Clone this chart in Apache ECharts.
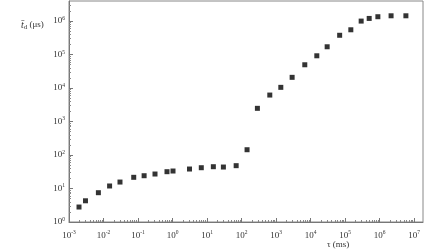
<!DOCTYPE html>
<html>
<head>
<meta charset="utf-8">
<script src="https://cdn.jsdelivr.net/npm/echarts@6/dist/echarts.min.js"></script>
<style>
  html, body { margin: 0; padding: 0; background: #fff; }
  #main { width: 448px; height: 252px; }
</style>
</head>
<body>
<div id="main"></div>
<script>
// tau (ms) vs mean delay time t_d (us)
var tau = [0.00195, 0.003, 0.0071, 0.015, 0.030, 0.075, 0.15, 0.31, 0.69, 1.03,
  3.1, 6.8, 15.2, 29.7, 69.6, 144, 287, 656, 1368, 2911,
  6770, 15100, 30100, 69300, 146000, 291000, 497000, 887000, 2140000, 5750000];
var td = [2.8, 4.3, 7.5, 11.9, 15.6, 21.6, 24.1, 27.1, 31.8, 33.3,
  38.2, 41.8, 44.8, 43.8, 48.1, 144, 2480, 6180, 10500, 20900,
  49600, 92000, 171000, 377000, 550000, 1000000, 1200000, 1350000, 1440000, 1440000];

var xDecades = [-3, -2, -1, 0, 1, 2, 3, 4, 5, 6, 7];
var yDecades = [0, 1, 2, 3, 4, 5, 6];
var xMin = 1e-3, xMax = 1.8e7;
var yMin = 1, yMax = 3.98e6;

function minorValues(decades, max) {
  var out = [];
  decades.forEach(function (d) {
    for (var m = 2; m <= 9; m++) {
      var v = m * Math.pow(10, d);
      if (v < max) out.push(v);
    }
  });
  return out;
}

function powLabel(v) {
  var e = Math.log10(v);
  var r = Math.round(e);
  if (Math.abs(e - r) > 1e-6) return '';
  return '{b|10}{s|' + r + '}';
}

var labelRich = {
  b: { fontFamily: 'Liberation Serif', fontSize: 9, color: '#333' },
  s: { fontFamily: 'Liberation Serif', fontSize: 5.5, color: '#333', verticalAlign: 'bottom', padding: [0, 0, 5, 0] }
};

var chartDom = document.getElementById('main');
var myChart = echarts.init(chartDom);
var option = {
  animation: false,
  grid: {
    left: 69, right: 25, top: 1, bottom: 30,
    show: true,
    borderColor: '#888',
    borderWidth: 1
  },
  xAxis: [
    {
      type: 'log',
      min: xMin, max: xMax,
      interval: 1,
      position: 'bottom',
      axisLine: { lineStyle: { color: '#777', width: 1 } },
      axisTick: { show: true, inside: true, length: 4, lineStyle: { color: '#777' } },
      axisLabel: {
        margin: 8,
        showMaxLabel: false,
        formatter: powLabel,
        rich: labelRich
      },
      splitLine: { show: false }
    },
    {
      // minor ticks only
      type: 'log',
      min: xMin, max: xMax,
      position: 'bottom',
      axisLine: { show: false },
      axisTick: { show: true, inside: true, length: 2, customValues: minorValues(xDecades, xMax), lineStyle: { color: '#888' } },
      axisLabel: { show: false },
      splitLine: { show: false }
    }
  ],
  yAxis: [
    {
      type: 'log',
      min: yMin, max: yMax,
      interval: 1,
      position: 'left',
      axisLine: { show: true, lineStyle: { color: '#777', width: 1 } },
      axisTick: { show: true, inside: true, length: 4, lineStyle: { color: '#777' } },
      axisLabel: {
        margin: 4,
        showMaxLabel: false,
        formatter: powLabel,
        rich: labelRich
      },
      splitLine: { show: false }
    },
    {
      type: 'log',
      min: yMin, max: yMax,
      position: 'left',
      axisLine: { show: false },
      axisTick: { show: true, inside: true, length: 2, customValues: minorValues(yDecades, yMax), lineStyle: { color: '#888' } },
      axisLabel: { show: false },
      splitLine: { show: false }
    }
  ],
  series: [
    {
      type: 'scatter',
      xAxisIndex: 0,
      yAxisIndex: 0,
      symbol: 'rect',
      symbolSize: 5,
      itemStyle: { color: '#000' },
      data: tau.map(function (t, i) { return [t, td[i]]; })
    }
  ],
  graphic: [
    {
      type: 'text',
      left: 21, top: 20,
      style: {
        text: '{i|t\u0304}{sub|d} (\u03bcs)',
        fontFamily: 'Liberation Serif',
        fontSize: 9,
        fill: '#333',
        rich: {
          i: { fontFamily: 'Liberation Serif', fontStyle: 'italic', fontSize: 10, fill: '#333' },
          sub: { fontFamily: 'Liberation Serif', fontSize: 7, fill: '#333', verticalAlign: 'top', padding: [5, 0, 0, 0] }
        }
      }
    },
    {
      type: 'text',
      left: 327, top: 240,
      style: {
        text: '\u03c4 (ms)',
        fontFamily: 'Liberation Serif',
        fontSize: 9,
        fill: '#333'
      }
    }
  ]
};
option && myChart.setOption(option);
window.addEventListener('resize', function () {
  myChart.resize();
});
</script>
</body>
</html>
